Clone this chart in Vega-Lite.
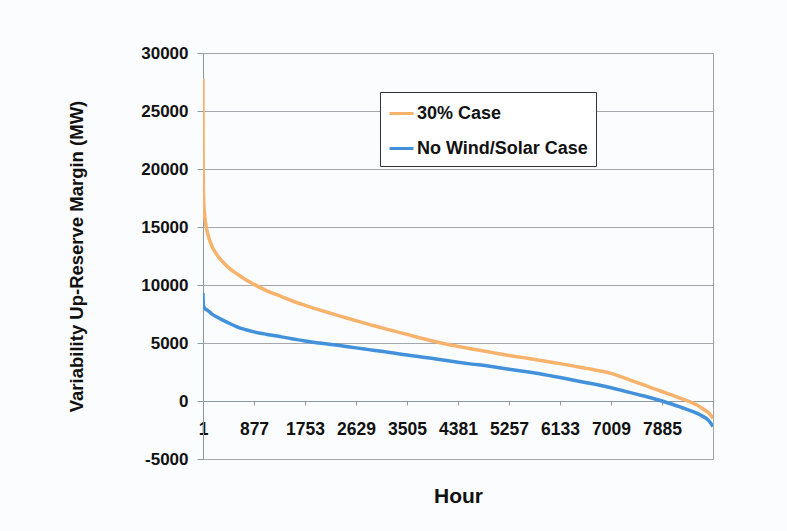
{
  "$schema": "https://vega.github.io/schema/vega-lite/v6.json",
  "width": 510,
  "height": 406,
  "autosize": {"type": "none"},
  "padding": {"left": 203, "top": 53, "right": 74, "bottom": 72},
  "background": "#fbfcfe",
  "config": {
    "view": {"stroke": "#a0a4a8", "strokeWidth": 1},
    "font": "Liberation Sans"
  },
  "datasets": {
    "curves": [
      {"hour": 1, "value": 27800, "series": "30% Case"},
      {"hour": 2, "value": 24000, "series": "30% Case"},
      {"hour": 4, "value": 20500, "series": "30% Case"},
      {"hour": 8, "value": 18200, "series": "30% Case"},
      {"hour": 15, "value": 17000, "series": "30% Case"},
      {"hour": 30, "value": 16000, "series": "30% Case"},
      {"hour": 60, "value": 14900, "series": "30% Case"},
      {"hour": 100, "value": 14100, "series": "30% Case"},
      {"hour": 150, "value": 13400, "series": "30% Case"},
      {"hour": 220, "value": 12750, "series": "30% Case"},
      {"hour": 320, "value": 12100, "series": "30% Case"},
      {"hour": 450, "value": 11450, "series": "30% Case"},
      {"hour": 600, "value": 10900, "series": "30% Case"},
      {"hour": 750, "value": 10400, "series": "30% Case"},
      {"hour": 877, "value": 10050, "series": "30% Case"},
      {"hour": 1100, "value": 9500, "series": "30% Case"},
      {"hour": 1350, "value": 9000, "series": "30% Case"},
      {"hour": 1550, "value": 8600, "series": "30% Case"},
      {"hour": 1753, "value": 8250, "series": "30% Case"},
      {"hour": 2000, "value": 7850, "series": "30% Case"},
      {"hour": 2200, "value": 7550, "series": "30% Case"},
      {"hour": 2400, "value": 7250, "series": "30% Case"},
      {"hour": 2629, "value": 6930, "series": "30% Case"},
      {"hour": 2850, "value": 6610, "series": "30% Case"},
      {"hour": 3067, "value": 6310, "series": "30% Case"},
      {"hour": 3300, "value": 6010, "series": "30% Case"},
      {"hour": 3505, "value": 5740, "series": "30% Case"},
      {"hour": 3700, "value": 5470, "series": "30% Case"},
      {"hour": 3926, "value": 5190, "series": "30% Case"},
      {"hour": 4150, "value": 4940, "series": "30% Case"},
      {"hour": 4381, "value": 4710, "series": "30% Case"},
      {"hour": 4620, "value": 4490, "series": "30% Case"},
      {"hour": 4871, "value": 4270, "series": "30% Case"},
      {"hour": 5060, "value": 4100, "series": "30% Case"},
      {"hour": 5257, "value": 3930, "series": "30% Case"},
      {"hour": 5500, "value": 3740, "series": "30% Case"},
      {"hour": 5729, "value": 3560, "series": "30% Case"},
      {"hour": 5930, "value": 3390, "series": "30% Case"},
      {"hour": 6133, "value": 3220, "series": "30% Case"},
      {"hour": 6350, "value": 3030, "series": "30% Case"},
      {"hour": 6588, "value": 2810, "series": "30% Case"},
      {"hour": 6819, "value": 2600, "series": "30% Case"},
      {"hour": 7009, "value": 2380, "series": "30% Case"},
      {"hour": 7200, "value": 2060, "series": "30% Case"},
      {"hour": 7361, "value": 1760, "series": "30% Case"},
      {"hour": 7550, "value": 1430, "series": "30% Case"},
      {"hour": 7705, "value": 1140, "series": "30% Case"},
      {"hour": 7885, "value": 820, "series": "30% Case"},
      {"hour": 8050, "value": 520, "series": "30% Case"},
      {"hour": 8220, "value": 210, "series": "30% Case"},
      {"hour": 8370, "value": -80, "series": "30% Case"},
      {"hour": 8478, "value": -330, "series": "30% Case"},
      {"hour": 8560, "value": -580, "series": "30% Case"},
      {"hour": 8649, "value": -880, "series": "30% Case"},
      {"hour": 8710, "value": -1150, "series": "30% Case"},
      {"hour": 8761, "value": -1500, "series": "30% Case"},
      {"hour": 1, "value": 9300, "series": "No Wind/Solar Case"},
      {"hour": 3, "value": 8700, "series": "No Wind/Solar Case"},
      {"hour": 10, "value": 8200, "series": "No Wind/Solar Case"},
      {"hour": 30, "value": 8000, "series": "No Wind/Solar Case"},
      {"hour": 86, "value": 7800, "series": "No Wind/Solar Case"},
      {"hour": 150, "value": 7520, "series": "No Wind/Solar Case"},
      {"hour": 250, "value": 7220, "series": "No Wind/Solar Case"},
      {"hour": 350, "value": 6950, "series": "No Wind/Solar Case"},
      {"hour": 450, "value": 6700, "series": "No Wind/Solar Case"},
      {"hour": 576, "value": 6420, "series": "No Wind/Solar Case"},
      {"hour": 700, "value": 6190, "series": "No Wind/Solar Case"},
      {"hour": 877, "value": 5960, "series": "No Wind/Solar Case"},
      {"hour": 1100, "value": 5740, "series": "No Wind/Solar Case"},
      {"hour": 1349, "value": 5530, "series": "No Wind/Solar Case"},
      {"hour": 1550, "value": 5350, "series": "No Wind/Solar Case"},
      {"hour": 1753, "value": 5170, "series": "No Wind/Solar Case"},
      {"hour": 2000, "value": 5000, "series": "No Wind/Solar Case"},
      {"hour": 2208, "value": 4870, "series": "No Wind/Solar Case"},
      {"hour": 2400, "value": 4740, "series": "No Wind/Solar Case"},
      {"hour": 2629, "value": 4580, "series": "No Wind/Solar Case"},
      {"hour": 2850, "value": 4430, "series": "No Wind/Solar Case"},
      {"hour": 3067, "value": 4280, "series": "No Wind/Solar Case"},
      {"hour": 3300, "value": 4110, "series": "No Wind/Solar Case"},
      {"hour": 3505, "value": 3960, "series": "No Wind/Solar Case"},
      {"hour": 3700, "value": 3830, "series": "No Wind/Solar Case"},
      {"hour": 3926, "value": 3680, "series": "No Wind/Solar Case"},
      {"hour": 4150, "value": 3510, "series": "No Wind/Solar Case"},
      {"hour": 4381, "value": 3340, "series": "No Wind/Solar Case"},
      {"hour": 4620, "value": 3180, "series": "No Wind/Solar Case"},
      {"hour": 4871, "value": 3030, "series": "No Wind/Solar Case"},
      {"hour": 5060, "value": 2890, "series": "No Wind/Solar Case"},
      {"hour": 5257, "value": 2740, "series": "No Wind/Solar Case"},
      {"hour": 5500, "value": 2570, "series": "No Wind/Solar Case"},
      {"hour": 5729, "value": 2390, "series": "No Wind/Solar Case"},
      {"hour": 5930, "value": 2210, "series": "No Wind/Solar Case"},
      {"hour": 6133, "value": 2020, "series": "No Wind/Solar Case"},
      {"hour": 6350, "value": 1810, "series": "No Wind/Solar Case"},
      {"hour": 6588, "value": 1580, "series": "No Wind/Solar Case"},
      {"hour": 6819, "value": 1360, "series": "No Wind/Solar Case"},
      {"hour": 7009, "value": 1140, "series": "No Wind/Solar Case"},
      {"hour": 7200, "value": 900, "series": "No Wind/Solar Case"},
      {"hour": 7447, "value": 590, "series": "No Wind/Solar Case"},
      {"hour": 7705, "value": 260, "series": "No Wind/Solar Case"},
      {"hour": 7900, "value": -20, "series": "No Wind/Solar Case"},
      {"hour": 8050, "value": -260, "series": "No Wind/Solar Case"},
      {"hour": 8220, "value": -560, "series": "No Wind/Solar Case"},
      {"hour": 8417, "value": -920, "series": "No Wind/Solar Case"},
      {"hour": 8560, "value": -1250, "series": "No Wind/Solar Case"},
      {"hour": 8680, "value": -1650, "series": "No Wind/Solar Case"},
      {"hour": 8761, "value": -2200, "series": "No Wind/Solar Case"}
    ]
  },
  "data": {"name": "curves"},
  "mark": {"type": "line", "strokeWidth": 3.5, "interpolate": "monotone", "clip": true},
  "encoding": {
    "x": {
      "field": "hour",
      "type": "quantitative",
      "scale": {"domain": [1, 8761], "nice": false, "zero": false},
      "axis": {
        "values": [1, 877, 1753, 2629, 3505, 4381, 5257, 6133, 7009, 7885, 8761],
        "labelExpr": "datum.value == 8761 ? '' : datum.value + ''",
        "offset": -58,
        "grid": false,
        "domainColor": "#8c9aa8",
        "tickColor": "#8c9aa8",
        "tickSize": 4,
        "labelPadding": 15,
        "labelFont": "Liberation Sans",
        "labelFontSize": 17.5,
        "labelFontWeight": "bold",
        "labelColor": "#111111",
        "labelFlush": false,
        "labelOverlap": false,
        "title": "Hour",
        "titleFont": "Liberation Sans",
        "titleFontSize": 21,
        "titleFontWeight": "bold",
        "titleColor": "#111111",
        "titlePadding": 48
      }
    },
    "y": {
      "field": "value",
      "type": "quantitative",
      "scale": {"domain": [-5000, 30000], "nice": false, "zero": false},
      "axis": {
        "values": [-5000, 0, 5000, 10000, 15000, 20000, 25000, 30000],
        "labelExpr": "datum.value + ''",
        "grid": true,
        "gridColor": "#a4a8ac",
        "gridWidth": 1.2,
        "domainColor": "#8c9aa8",
        "tickColor": "#8c9aa8",
        "tickSize": 6,
        "labelPadding": 9,
        "labelFont": "Liberation Sans",
        "labelFontSize": 17,
        "labelFontWeight": "bold",
        "labelColor": "#111111",
        "title": "Variability Up-Reserve Margin (MW)",
        "titleFont": "Liberation Sans",
        "titleFontSize": 18.5,
        "titleFontWeight": "bold",
        "titleColor": "#111111",
        "titlePadding": 54
      }
    },
    "color": {
      "field": "series",
      "type": "nominal",
      "scale": {"domain": ["30% Case", "No Wind/Solar Case"], "range": ["#f7b26c", "#4291da"]},
      "legend": {
        "title": null,
        "orient": "none",
        "legendX": 177,
        "legendY": 39,
        "direction": "vertical",
        "fillColor": "#ffffff",
        "strokeColor": "#333333",
        "padding": 8,
        "rowPadding": 12,
        "symbolType": "stroke",
        "symbolSize": 576,
        "symbolStrokeWidth": 3,
        "labelOffset": 2,
        "labelFont": "Liberation Sans",
        "labelFontSize": 18,
        "labelFontWeight": "bold",
        "labelColor": "#111111",
        "labelLimit": 300
      }
    }
  }
}
